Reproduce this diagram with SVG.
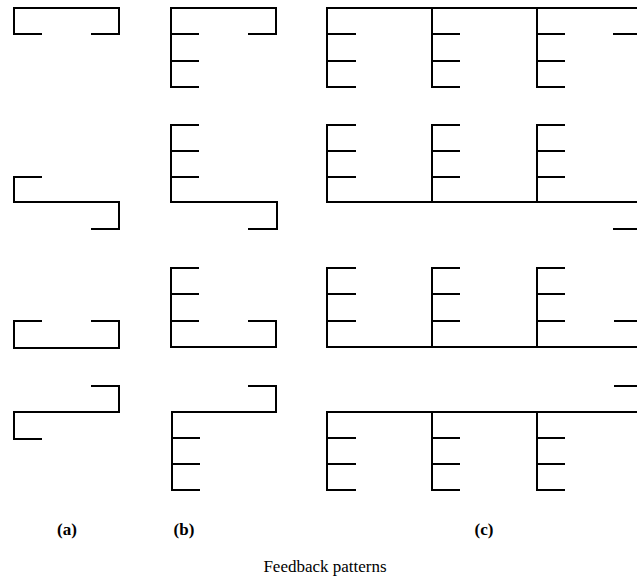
<svg xmlns="http://www.w3.org/2000/svg" width="637" height="580" viewBox="0 0 637 580">
<style>
.l{fill:none;stroke:#000;stroke-width:2;stroke-linecap:square;stroke-linejoin:miter}
.t{font-family:"Liberation Serif","Times New Roman",serif;fill:#000;text-anchor:middle}
.p{font-size:17px;font-weight:bold}
.c{font-size:17px}
</style>
<rect width="637" height="580" fill="#fff"/>
<g id="col-a">
<g id="a1"><path class="l" d="M41,34 H14 V8 H119 V34 H92"/></g>
<g id="a2"><path class="l" d="M41,177 H14 V202 H119 V229 H92"/></g>
<g id="a3"><path class="l" d="M41,321 H14 V348 H119 V321 H92"/></g>
<g id="a4"><path class="l" d="M92,386 H119 V412 H14 V439 H41"/></g>
</g>
<g id="col-b">
<g id="b1"><path class="l" d="M249,34 H276 V8 H171 V87 H198 M171,34 H198 M171,61 H198"/></g>
<g id="b2"><path class="l" d="M198,125 H171 V202 H277 V229 H249 M171,151 H198 M171,177 H198"/></g>
<g id="b3"><path class="l" d="M198,268 H171 V347 H276 V321 H249 M171,294 H198 M171,321 H198"/></g>
<g id="b4"><path class="l" d="M249,386 H276 V412 H172 V490 H199 M172,438 H199 M172,464 H199"/></g>
</g>
<g id="col-c">
<g id="c1"><path class="l" d="M637,8 H327 V87 H355 M327,34 H355 M327,61 H355 M432,8 V87 H459 M432,34 H459 M432,61 H459 M537,8 V87 H564 M537,34 H564 M537,61 H564 M614,34 H637"/></g>
<g id="c2"><path class="l" d="M355,125 H327 V202 H637 M327,151 H355 M327,177 H355 M459,125 H432 V202 M432,151 H459 M432,177 H459 M564,125 H537 V202 M537,151 H564 M537,177 H564 M614,229 H637"/></g>
<g id="c3"><path class="l" d="M355,268 H327 V347 H637 M327,294 H355 M327,321 H355 M459,268 H432 V347 M432,294 H459 M432,321 H459 M564,268 H537 V347 M537,294 H564 M537,321 H564 M615,321 H637"/></g>
<g id="c4"><path class="l" d="M615,386 H637 M637,412 H327 V490 H355 M327,438 H355 M327,464 H355 M432,412 V490 H459 M432,438 H459 M432,464 H459 M537,412 V490 H564 M537,438 H564 M537,464 H564"/></g>
</g>
<g id="connectors"></g>
<g id="labels">
<text class="t p" x="67" y="535">(a)</text>
<text class="t p" x="184" y="535">(b)</text>
<text class="t p" x="484" y="535">(c)</text>
<text class="t c" x="325" y="572">Feedback patterns</text>
</g>
</svg>
